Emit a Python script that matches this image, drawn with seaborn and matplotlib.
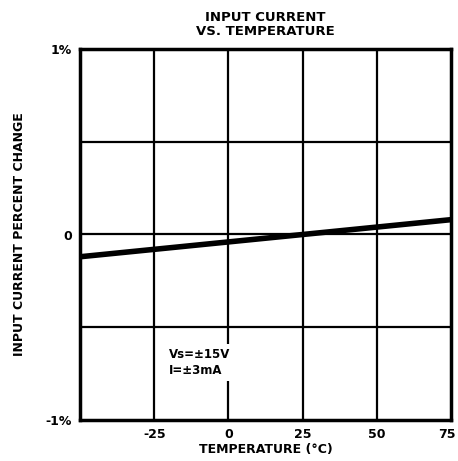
import matplotlib
matplotlib.use("Agg")
import matplotlib.pyplot as plt
import matplotlib.transforms as mtransforms
import seaborn as sns
import pandas as pd

temperature = [-50, -25, 0, 25, 50, 75]
pct_change = [-0.12, -0.08, -0.04, 0.0, 0.04, 0.08]
x_ticks = [-25, 0, 25, 50, 75]
x_grid = [-25, 0, 25, 50]
y_ticks = [-1, 0, 1]
y_tick_labels = ["-1%", "0", "1%"]
y_grid = [-0.5, 0, 0.5]

sns.set_theme(style="white")
plt.rcParams["font.family"] = ["DejaVu Sans"]
plt.rcParams["text.color"] = "black"
plt.rcParams["axes.labelcolor"] = "black"
plt.rcParams["xtick.color"] = "black"
plt.rcParams["ytick.color"] = "black"

df = pd.DataFrame({"T": temperature, "chg": pct_change})

fig = plt.figure(figsize=(4.58, 4.61), dpi=100)
ax = fig.add_axes([80 / 458, 41 / 461, 371 / 458, 371 / 461])

for g in x_grid:
    ax.axvline(g, color="black", lw=1.6, zorder=1)
for g in y_grid:
    ax.axhline(g, color="black", lw=1.6, zorder=1)

sns.lineplot(data=df, x="T", y="chg", ax=ax, color="black", lw=4, zorder=3)

ax.set_xlim(-50, 75)
ax.set_ylim(-1, 1)
ax.set_xticks(x_ticks)
ax.set_xticklabels([str(t) for t in x_ticks], fontsize=9, fontweight="bold")
ax.set_yticks(y_ticks)
ax.set_yticklabels(y_tick_labels, fontsize=9, fontweight="bold")
ax.tick_params(length=0, pad=6)
last = ax.get_xticklabels()[-1]
last.set_transform(last.get_transform() + mtransforms.ScaledTranslation(-4 / 100, 0, fig.dpi_scale_trans))

for s in ax.spines.values():
    s.set_visible(True)
    s.set_color("black")
    s.set_linewidth(2.5)

ax.set_xlabel("TEMPERATURE (°C)", fontsize=9, fontweight="bold", labelpad=1)
ax.set_ylabel("INPUT CURRENT PERCENT CHANGE", fontsize=9, fontweight="bold", labelpad=14)
ax.set_title("INPUT CURRENT\nVS. TEMPERATURE", fontsize=9.5, fontweight="bold",
             linespacing=1.15, pad=10)

ax.text(-20, -0.69, "Vs=±15V\nI=±3mA", fontsize=8.5, fontweight="bold",
        ha="left", va="center", linespacing=1.3, zorder=5,
        bbox=dict(facecolor="white", edgecolor="none", pad=3))

fig.savefig("out.png", dpi=100, facecolor="white")
